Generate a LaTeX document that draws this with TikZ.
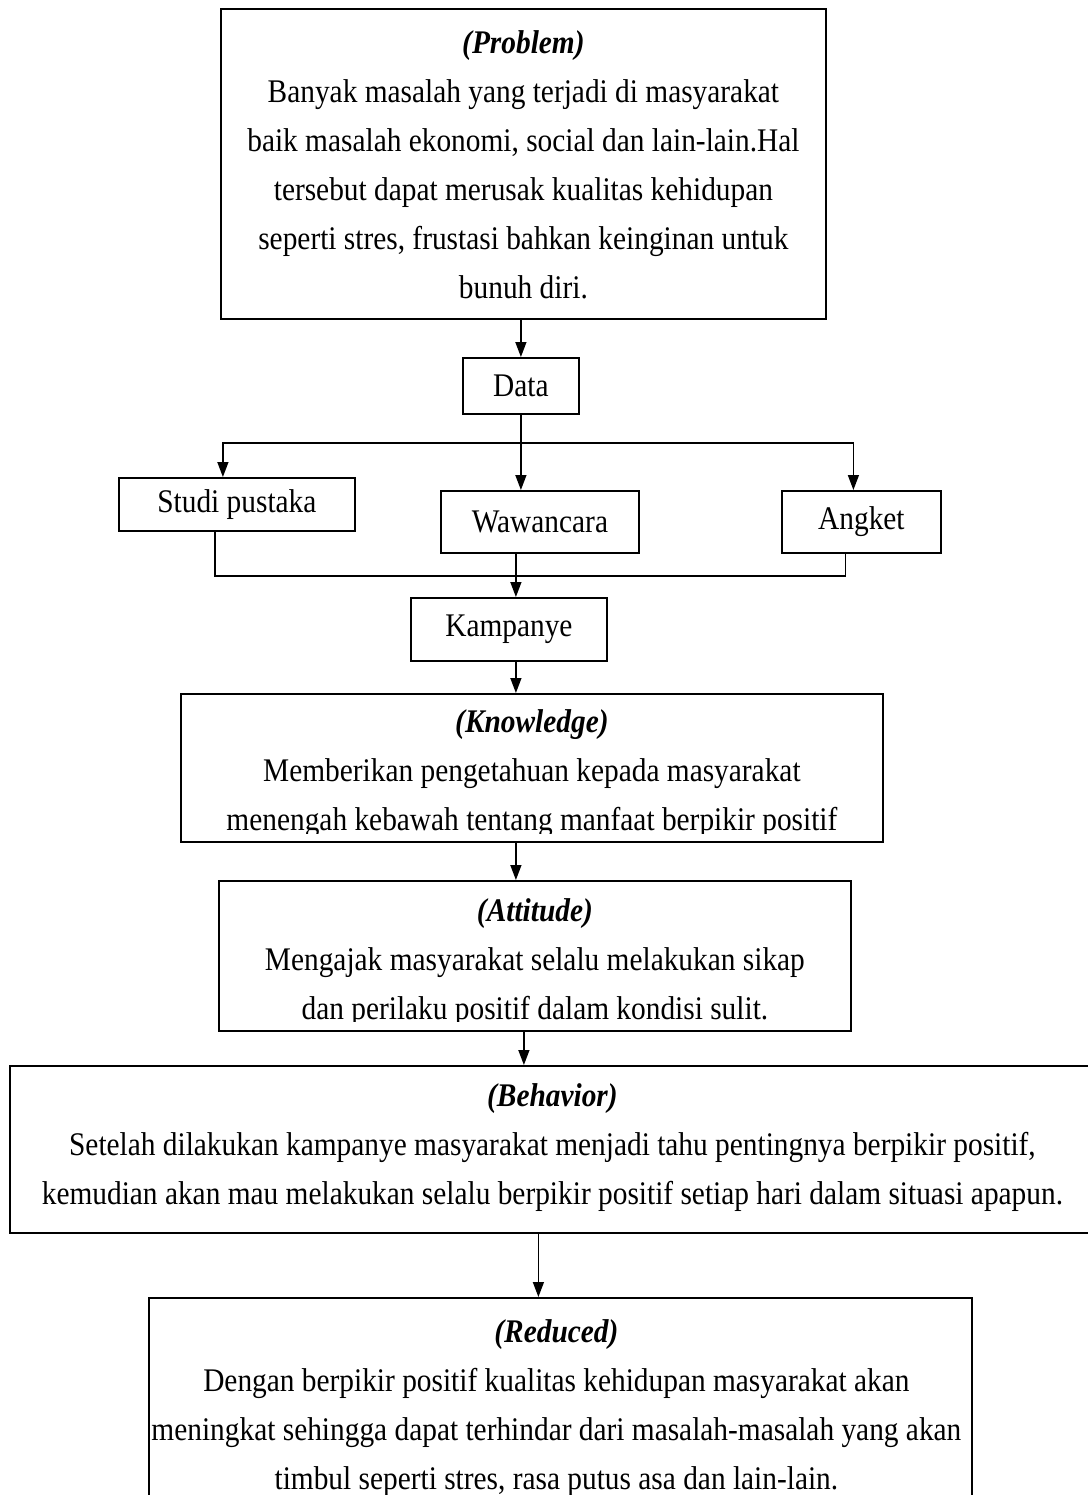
\documentclass[tikz,border=0pt]{standalone}
\usepackage{fontspec}
\setmainfont{Liberation Serif}[FakeStretch=0.89]
\usetikzlibrary{positioning,arrows.meta,calc}
\tikzset{
  flow/.style={-{Triangle[length=15pt,width=11pt]},line width=1.4pt},
  link/.style={line width=1.4pt},
  box/.style={draw,line width=1.8pt,inner sep=0pt,anchor=north west,
    align=center,font=\fontsize{33}{49}\selectfont},
  stagetext/.style={inner sep=0pt,align=center,font=\fontsize{33}{49}\selectfont},
}
\newcommand{\stagehead}[1]{\strut\textbf{\textit{(#1)}}}

\begin{document}
\begin{tikzpicture}[x=1pt,y=-1pt]
  \useasboundingbox (0,0) rectangle (1087,1495);
  % stage boxes
  \node[box,minimum width=605,minimum height=310] (problem) at (220,8) {};
  \node[box,minimum width=116,minimum height=56] (data) at (462,357) {Data};
  \node[box,minimum width=236,minimum height=53] (studi) at (118,477) {Studi pustaka};
  \node[box,minimum width=198,minimum height=62] (wawancara) at (440,490) {Wawancara};
  \node[box,minimum width=159,minimum height=62] (angket) at (781,490) {Angket};
  \node[box,minimum width=196,minimum height=63] (kampanye) at (410,597) {Kampanye};
  \node[box,minimum width=702,minimum height=148] (knowledge) at (180,693) {};
  \node[box,minimum width=632,minimum height=150] (attitude) at (218,880) {};
  \node[box,minimum width=1085,minimum height=167] (behavior) at (9,1065) {};
  \node[box,minimum width=823,minimum height=210] (reduced) at (148,1297) {};

  % texts of the large boxes
  \node[stagetext,below=10.7pt of problem.north] (problem-text) {
    \stagehead{Problem}\\
    Banyak masalah yang terjadi di masyarakat\\
    baik masalah ekonomi, social dan lain-lain.Hal\\
    tersebut dapat merusak kualitas kehidupan\\
    seperti stres, frustasi bahkan keinginan untuk\\
    bunuh diri.};
  \begin{scope}
    \clip (knowledge.north west) rectangle ($(knowledge.south east)+(0,-9)$);
    \node[stagetext,below=4.7pt of knowledge.north] (knowledge-text) {
      \stagehead{Knowledge}\\
      Memberikan pengetahuan kepada masyarakat\\
      menengah kebawah tentang manfaat berpikir positif};
  \end{scope}
  \begin{scope}
    \clip (attitude.north west) rectangle ($(attitude.south east)+(0,-10)$);
    \node[stagetext,below=6.7pt of attitude.north] (attitude-text) {
      \stagehead{Attitude}\\
      Mengajak masyarakat selalu melakukan sikap\\
      dan perilaku positif dalam kondisi sulit.};
  \end{scope}
  \node[stagetext,below=6.7pt of behavior.north] (behavior-text) {
    \stagehead{Behavior}\\
    Setelah dilakukan kampanye masyarakat menjadi tahu pentingnya berpikir positif,\\
    kemudian akan mau melakukan selalu berpikir positif setiap hari dalam situasi apapun.};
  \node[stagetext,below=10.7pt of reduced.north,xshift=-4pt] (reduced-text) {
    \stagehead{Reduced}\\
    Dengan berpikir positif kualitas kehidupan masyarakat akan\\
    meningkat sehingga dapat terhindar dari masalah-masalah yang akan\\
    timbul seperti stres, rasa putus asa dan lain-lain.};

  % problem to data, then the three sources
  \draw[flow] (data.north |- problem.south) -- (data.north);
  \coordinate (fork) at ($(data.south)+(0,28)$);
  \draw[flow] (data.south) -- (data.south |- wawancara.north);
  \draw[flow] (fork) -| ($(studi.north)+(-14,0)$);
  \draw[flow] (fork) -| ($(angket.north)+(-8,0)$);

  % sources join into the campaign
  \draw[link] ($(studi.south)+(-22,0)$) -- ++(0,44) -| ($(angket.south)+(-16,0)$);
  \coordinate (w1) at ($(wawancara.south)+(-24,0)$);
  \draw[flow] (w1) -- (w1 |- kampanye.north);
  \draw[flow] (w1 |- kampanye.south) -- (w1 |- knowledge.north);
  \draw[flow] (w1 |- knowledge.south) -- (w1 |- attitude.north);
  \coordinate (a1) at ($(attitude.south)+(-11,0)$);
  \draw[flow] (a1) -- (a1 |- behavior.north);
  \coordinate (r1) at ($(reduced.north)+(-22,0)$);
  \draw[flow] (r1 |- behavior.south) -- (r1);
\end{tikzpicture}
\end{document}
